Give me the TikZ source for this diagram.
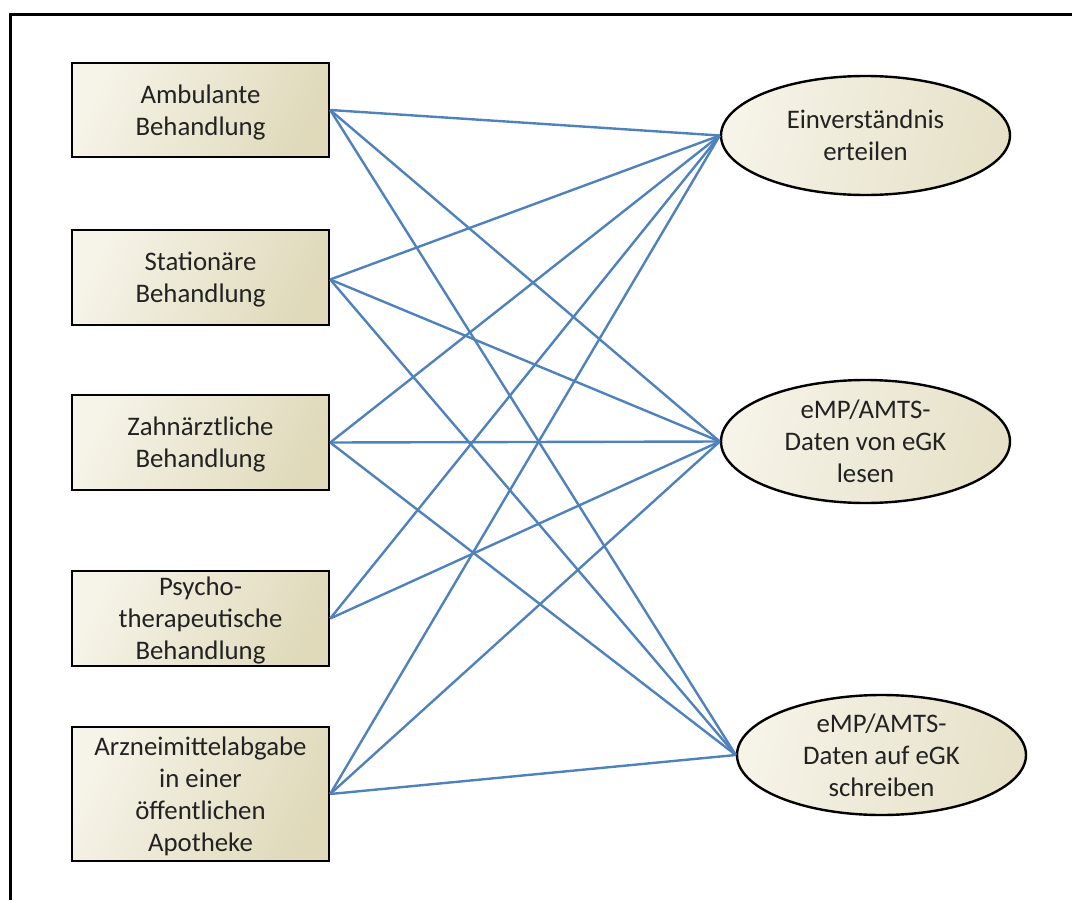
\documentclass[tikz,border=0pt]{standalone}
\usepackage{fontspec}
\setmainfont{Carlito}
\usetikzlibrary{shapes.geometric}
\definecolor{linkblue}{HTML}{4F81BD}
\definecolor{boxL}{HTML}{F6F3E8}
\definecolor{boxR}{HTML}{E0DABB}
\definecolor{ovalR}{HTML}{E6E1C8}
\definecolor{txt}{HTML}{222222}
\tikzset{
 x=1pt,y=-1pt,
 shared/.style={draw=black,line width=2.4pt,inner sep=0pt,align=center,text=txt,text depth=0pt,
   font=\fontsize{26.8}{32}\selectfont,execute at begin node={\mbox{}\\[-28pt]}},
 box/.style={shared,rectangle,minimum width=257pt,left color=boxL,right color=boxR,shading angle=65},
 oval/.style={shared,ellipse,minimum width=289pt,left color=boxL,right color=ovalR,shading angle=75},
 link/.style={draw=linkblue,line width=2.4pt},
 frameline/.style={draw=black,line width=3pt}
}
\begin{document}
\begin{tikzpicture}
\useasboundingbox (0,0) rectangle (1072,900);
\coordinate (fa) at (10,900);
\coordinate (fb) at (10,14);
\coordinate (fc) at (1072,14);
\draw[frameline] (fa) -- (fb) -- (fc);
\node[box,minimum height=94pt] (a) at (200.5,110) {Ambulante\\Behandlung};
\node[box,minimum height=95pt] (s) at (200.5,277.5) {Stationäre\\Behandlung};
\node[box,minimum height=95pt] (z) at (200.5,442.5) {Zahnärztliche\\Behandlung};
\node[box,minimum height=95pt] (p) at (200.5,618.5) {Psycho-\\therapeutische\\Behandlung};
\node[box,minimum height=134pt] (m) at (200.5,794) {Arzneimittelabgabe\\in einer\\öffentlichen\\Apotheke};
\node[oval,minimum height=119pt] (e) at (865.5,135.5) {Einverständnis\\erteilen};
\node[oval,minimum height=123pt] (l) at (865.5,441.5) {eMP/AMTS-\\Daten von eGK\\lesen};
\node[oval,minimum height=120pt] (w) at (881.5,755) {eMP/AMTS-\\Daten auf eGK\\schreiben};
\coordinate (sx) at ([yshift=-2pt]s.east);
\foreach \t in {e,l,w} \draw[link] (a.east) -- (\t.west);
\foreach \t in {e,l,w} \draw[link] (sx) -- (\t.west);
\foreach \t in {e,l,w} \draw[link] (z.east) -- (\t.west);
\foreach \t in {e,l} \draw[link] (p.east) -- (\t.west);
\foreach \t in {e,l,w} \draw[link] (m.east) -- (\t.west);
\end{tikzpicture}
\end{document}
